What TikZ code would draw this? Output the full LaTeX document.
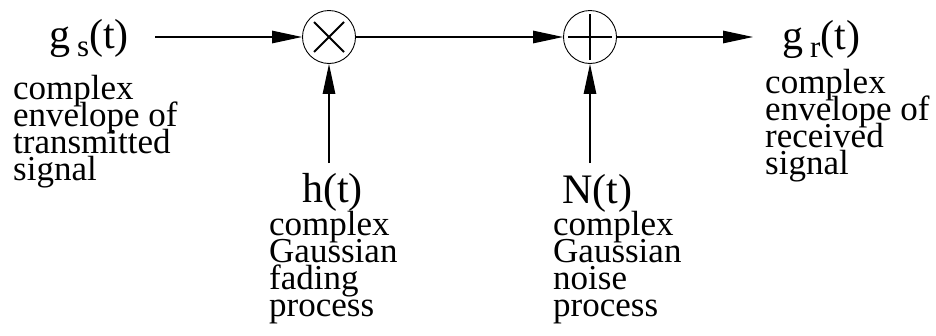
\documentclass[tikz,border=0pt]{standalone}
\usepackage{fontspec}
\setmainfont{Liberation Serif}
\usetikzlibrary{arrows.meta,calc}
\newcommand\mydescfont{\fontsize{35}{27}\selectfont\lineskiplimit=-60pt\relax\lineskip=0pt\relax}
\begin{document}
\begin{tikzpicture}[x=1pt,y=-1pt,
  sig/.style={-{Triangle[length=30pt,width=12.5pt]},line width=1.2pt},
  op/.style={circle,draw,line width=0.9pt,minimum size=53pt,inner sep=0pt},
  sym/.style={line width=1.8pt},
  big/.style={inner sep=0pt,anchor=base west,font=\fontsize{42}{42}\selectfont},
  desc/.style={inner sep=0pt,anchor=north west,align=left,font=\mydescfont}]
\useasboundingbox (0,0) rectangle (936,335);
\node[op] (mul) at (329,37) {};
\node[op] (add) at (590,37) {};
\draw[sym] ($(mul)+(-15,-15)$) -- ($(mul)+(15,15)$) ($(mul)+(-15,15)$) -- ($(mul)+(15,-15)$);
\draw[sym] ($(add)+(-22,0)$) -- ($(add)+(22,0)$) ($(add)+(0,-23)$) -- ($(add)+(0,23)$);
\node[big] (gs) at (49,48) {g\,\raisebox{-8pt}{\fontsize{31}{31}\selectfont s}(t)};
\node[big] (gr) at (782,49) {g\,\raisebox{-8pt}{\fontsize{31}{31}\selectfont r}(t)};
\node[big] (h) at (302,202) {h(t)};
\node[big] (n) at (562,203) {N(t)};
\node[desc] (d1) at (13,75) {complex\\envelope of\\transmitted\\signal};
\node[desc] (d2) at (765,69) {complex\\envelope of\\received\\signal};
\node[desc] (d3) at (269,211) {complex\\Gaussian\\fading\\process};
\node[desc] (d4) at (553,211) {complex\\Gaussian\\noise\\process};
\coordinate (in) at (155,37);
\coordinate (out) at (753,37);
\coordinate (hb) at (329,163);
\coordinate (nb) at (590,163);
\draw[sig] (in) -- (mul);
\draw[sig] (mul) -- (add);
\draw[sig] (add) -- (out);
\draw[sig] (hb) -- (mul);
\draw[sig] (nb) -- (add);
\end{tikzpicture}
\end{document}
